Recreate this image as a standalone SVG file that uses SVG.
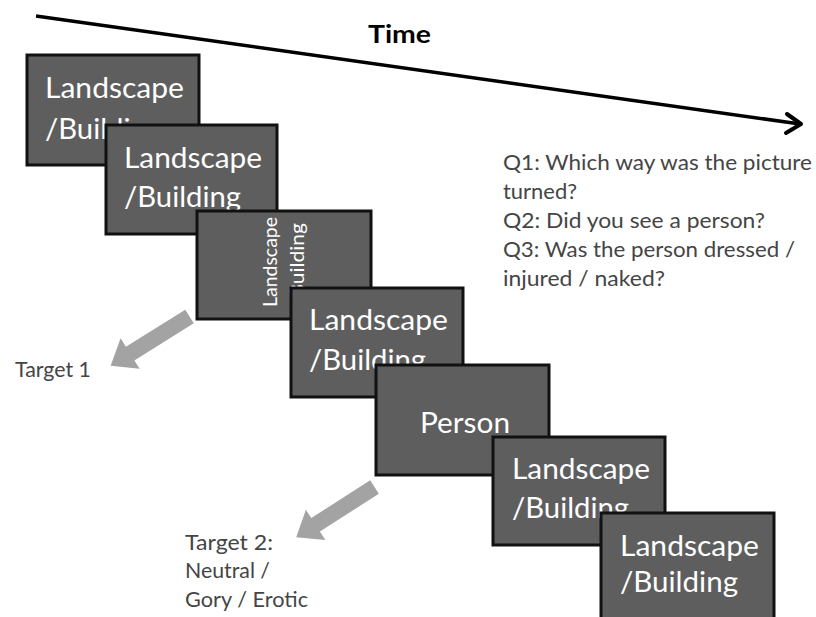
<svg xmlns="http://www.w3.org/2000/svg" width="816" height="617" viewBox="0 0 816 617">
<style>
.box{fill:#5e5e5e;stroke:#111;stroke-width:3}
.bt{fill:#fff;font-family:Lato,"Open Sans","Liberation Sans",sans-serif;font-size:29px}
.rt{fill:#fff;font-family:Lato,"Open Sans","Liberation Sans",sans-serif;font-size:19px}
.lbl{fill:#454545;font-family:Lato,"Open Sans","Liberation Sans",sans-serif;font-size:22px}
.garrow{fill:#a3a3a3}
</style>
<defs>
<path id="blk" d="M0,-8 L70,-8 L70,-18 L93,0 L70,18 L70,8 L0,8 Z"/>
</defs>
<g id="time">
<line x1="36" y1="16" x2="800" y2="124" stroke="#000" stroke-width="3.5"/>
<polyline points="787,114 801,124 786,133" fill="none" stroke="#000" stroke-width="4" stroke-linecap="round" stroke-linejoin="round"/>
<text x="368" y="43" font-family="Lato,'Open Sans','Liberation Sans',sans-serif" font-size="25" font-weight="bold" fill="#000" textLength="63" lengthAdjust="spacingAndGlyphs">Time</text>
</g>
<g id="connectors">
<use href="#blk" class="garrow" transform="translate(189.5,316.5) rotate(148)"/>
<use href="#blk" class="garrow" transform="translate(374.5,487) rotate(147.3)"/>
</g>
<g id="box1">
<rect class="box" x="27" y="55" width="172" height="110"/>
<text class="bt" x="45" y="98" textLength="139" lengthAdjust="spacingAndGlyphs">Landscape</text>
<text class="bt" x="45" y="139" textLength="117" lengthAdjust="spacingAndGlyphs">/Building</text>
</g>
<g id="box2">
<rect class="box" x="106" y="125" width="171" height="109"/>
<text class="bt" x="124" y="168" textLength="138" lengthAdjust="spacingAndGlyphs">Landscape</text>
<text class="bt" x="124" y="207" textLength="117" lengthAdjust="spacingAndGlyphs">/Building</text>
</g>
<g id="box3">
<rect class="box" x="197" y="211" width="174" height="108"/>
<text class="rt" transform="translate(277,307) rotate(-90)" textLength="90" lengthAdjust="spacingAndGlyphs">Landscape</text>
<text class="rt" transform="translate(304,307) rotate(-90)" textLength="84" lengthAdjust="spacingAndGlyphs">/Building</text>
</g>
<g id="box4">
<rect class="box" x="291" y="288" width="172" height="109"/>
<text class="bt" x="309" y="330" textLength="139" lengthAdjust="spacingAndGlyphs">Landscape</text>
<text class="bt" x="309" y="370" textLength="117" lengthAdjust="spacingAndGlyphs">/Building</text>
</g>
<g id="box5">
<rect class="box" x="376" y="365" width="173" height="110"/>
<text class="bt" x="420" y="433" textLength="90" lengthAdjust="spacingAndGlyphs">Person</text>
</g>
<g id="box6">
<rect class="box" x="493" y="437" width="172" height="108"/>
<text class="bt" x="512" y="479" textLength="138" lengthAdjust="spacingAndGlyphs">Landscape</text>
<text class="bt" x="512" y="518" textLength="117" lengthAdjust="spacingAndGlyphs">/Building</text>
</g>
<g id="box7">
<rect class="box" x="601" y="513" width="173" height="112"/>
<text class="bt" x="620" y="556" textLength="139" lengthAdjust="spacingAndGlyphs">Landscape</text>
<text class="bt" x="620" y="592" textLength="118" lengthAdjust="spacingAndGlyphs">/Building</text>
</g>
<g id="target1">
<text class="lbl" x="15" y="377" textLength="76" lengthAdjust="spacingAndGlyphs">Target 1</text>
</g>
<g id="target2">
<text class="lbl" x="185" y="550" textLength="88" lengthAdjust="spacingAndGlyphs">Target 2:</text>
<text class="lbl" x="185" y="578" textLength="85" lengthAdjust="spacingAndGlyphs">Neutral /</text>
<text class="lbl" x="185" y="607" textLength="123" lengthAdjust="spacingAndGlyphs">Gory / Erotic</text>
</g>
<g id="questions">
<text class="lbl" x="503" y="170" textLength="309" lengthAdjust="spacingAndGlyphs">Q1: Which way was the picture</text>
<text class="lbl" x="503" y="199" textLength="74" lengthAdjust="spacingAndGlyphs">turned?</text>
<text class="lbl" x="503" y="228" textLength="262" lengthAdjust="spacingAndGlyphs">Q2: Did you see a person?</text>
<text class="lbl" x="503" y="257" textLength="292" lengthAdjust="spacingAndGlyphs">Q3: Was the person dressed /</text>
<text class="lbl" x="503" y="286" textLength="162" lengthAdjust="spacingAndGlyphs">injured / naked?</text>
</g>
</svg>
